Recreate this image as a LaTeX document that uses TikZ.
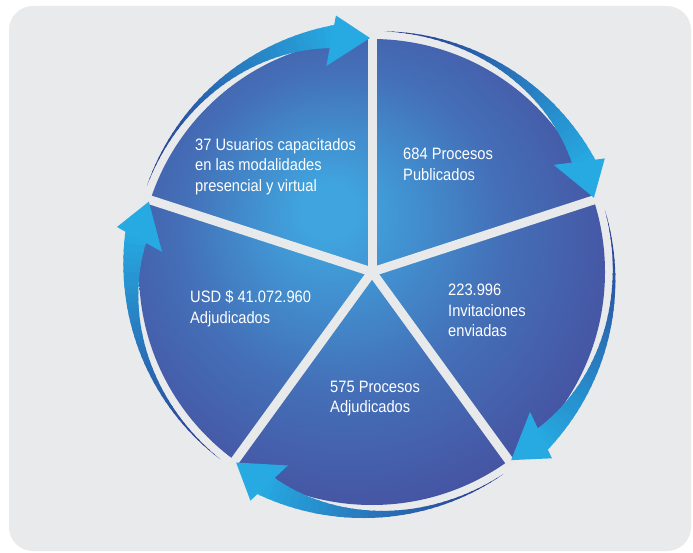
\documentclass[tikz,border=0pt]{standalone}
\usepackage{fontspec}
\newfontfamily\lblfont[FakeStretch=0.89]{Liberation Sans}
\definecolor{bggray}{HTML}{E9EAEC}
\definecolor{gapgray}{HTML}{E8E9EB}
\definecolor{pielight}{RGB}{64,164,222}
\definecolor{piemid}{RGB}{68,112,184}
\definecolor{piedark}{RGB}{70,72,154}
\definecolor{arrtail}{RGB}{43,55,142}
\definecolor{arrhead}{RGB}{38,170,225}
\pgfdeclareradialshading{pieshade}{\pgfpoint{-5bp}{7bp}}{color(0bp)=(pielight); color(3bp)=(pielight); color(17bp)=(piemid); color(34bp)=(piedark); color(50bp)=(piedark)}
\begin{document}
\begin{tikzpicture}[x=1pt,y=1pt,
  lbl/.style={anchor=base west, inner sep=0pt, text=white, font=\lblfont\fontsize{16.5}{20.3}\selectfont},
  gapline/.style={draw=gapgray, line width=9pt},
  ahead/.style={fill=arrhead}]
\useasboundingbox (0,0) rectangle (693,552);
\fill[white] (0,0) rectangle (693,552);
\fill[bggray, rounded corners=24pt] (9,1) rectangle (691,546);
\coordinate (C) at (372,280);
\begin{scope}[shift={(C)}]
  \shade[shading=pieshade] (0,0) circle (233);
  \foreach \a in {90,18,-54,-126,162} \draw[gapline] (0,0) -- (\a:240);
  \foreach \a in {90,18,-54,-126,162}{
    \foreach \i in {0,...,35}{
      \pgfmathsetmacro\sa{\i/36}
      \pgfmathsetmacro\sb{min(1,(\i+1.3)/36)}
      \pgfmathtruncatemacro\pct{100*\i/35}
      \fill[arrhead!\pct!arrtail] plot[domain=\sa:\sb,samples=4] ({\a+69-61*\x}:{241+9*\x}) -- plot[domain=\sb:\sa,samples=4] ({\a+69-61*\x}:{241-15*\x*\x*\x}) -- cycle;
    }
    \fill[ahead] ({\a+8}:259) -- ({\a+0.5}:234) -- ({\a+12.5}:211) -- cycle;
  }
\end{scope}
\node[lbl] (t1) at (195,401.3) {\begin{tabular}[t]{@{}l@{}}37 Usuarios capacitados\\en las modalidades\\presencial y virtual\end{tabular}};
\node[lbl] (t2) at (403,392) {\begin{tabular}[t]{@{}l@{}}684 Procesos\\Publicados\end{tabular}};
\node[lbl] (t3) at (448,256) {\begin{tabular}[t]{@{}l@{}}223.996\\Invitaciones\\enviadas\end{tabular}};
\node[lbl] (t4) at (190,249) {\begin{tabular}[t]{@{}l@{}}USD \$ 41.072.960\\Adjudicados\end{tabular}};
\node[lbl] (t5) at (330,160) {\begin{tabular}[t]{@{}l@{}}575 Procesos\\Adjudicados\end{tabular}};
\end{tikzpicture}
\end{document}
